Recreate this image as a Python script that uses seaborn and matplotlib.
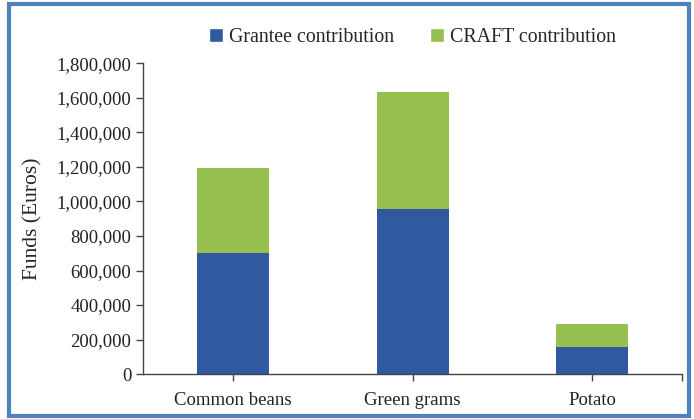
import matplotlib
matplotlib.use('Agg')
import matplotlib.pyplot as plt
from matplotlib.patches import Patch, Rectangle
from matplotlib.ticker import FuncFormatter, FixedLocator
import pandas as pd
import seaborn as sns

# Data
crops = ['Common beans', 'Green grams', 'Potato']
grantee = [700000, 955000, 155000]
craft = [492000, 677000, 134000]

blue = '#30599F'
green = '#95BF4E'

df = pd.DataFrame({'crop': crops, 'grantee': grantee, 'craft': craft})
df['total'] = df['grantee'] + df['craft']

sns.set_style('white')
plt.rcParams['font.family'] = ['Liberation Serif', 'DejaVu Serif']

fig = plt.figure(figsize=(6.94, 4.19), dpi=100)
ax = fig.add_axes([0.206, 0.107, 0.777, 0.742])

# Stacked bars: total in green, grantee part in blue on top of it
sns.barplot(data=df, x='crop', y='total', color=green, width=0.4,
            saturation=1, linewidth=0, ax=ax)
sns.barplot(data=df, x='crop', y='grantee', color=blue, width=0.4,
            saturation=1, linewidth=0, ax=ax)

ax.set_xlim(-0.5, 2.5)
ax.set_ylim(0, 1800000)
ax.set_yticks(range(0, 1800001, 200000))
ax.yaxis.set_major_formatter(FuncFormatter(lambda v, p: f'{int(v):,}'))
ax.xaxis.set_minor_locator(FixedLocator([2.5]))

ax.set_xlabel('')
ax.set_ylabel('Funds (Euros)', fontsize=15.5, labelpad=10)
ax.tick_params(axis='both', labelsize=13.5, colors='#222222')
ax.tick_params(axis='y', direction='out', length=5, width=1, left=True,
               color='#444444')
ax.tick_params(axis='x', which='both', direction='out', length=5, width=1,
               bottom=True, color='#444444', pad=8)
sns.despine(ax=ax)
for s in ['left', 'bottom']:
    ax.spines[s].set_color('#444444')
    ax.spines[s].set_linewidth(1)

handles = [Patch(facecolor=blue, label='Grantee contribution'),
           Patch(facecolor=green, label='CRAFT contribution')]
fig.legend(handles=handles, loc='center', bbox_to_anchor=(0.594, 0.91),
           ncol=2, frameon=False, fontsize=14.3, handlelength=0.7,
           handleheight=0.7, handletextpad=0.3, columnspacing=1.8)

# Blue frame around the whole figure
fig.patches.append(Rectangle((0.013, 0.008), 0.98, 0.982, transform=fig.transFigure,
                             fill=False, edgecolor='#4F81BD', linewidth=3))

fig.savefig('out.png', dpi=100)
